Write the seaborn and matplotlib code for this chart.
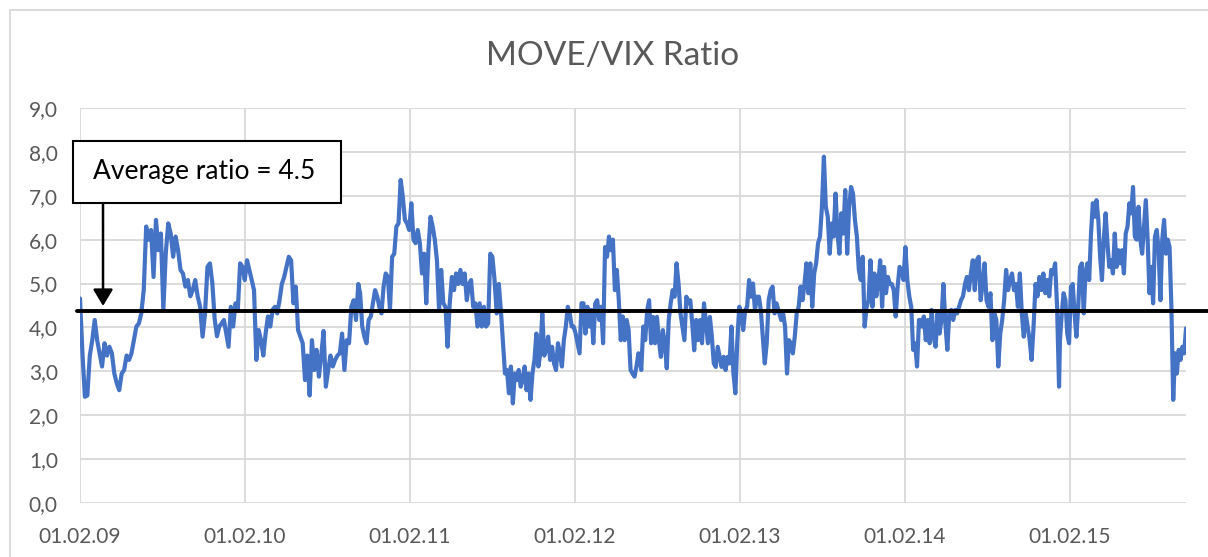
import matplotlib
matplotlib.use("Agg")
import matplotlib.pyplot as plt
import matplotlib.dates as mdates
from matplotlib.patches import Rectangle
from matplotlib.ticker import FuncFormatter
import seaborn as sns
import pandas as pd

# MOVE/VIX ratio in consecutive date segments
seg_start = ["2009-02-01", "2009-11-26", "2010-10-14", "2011-08-22",
             "2012-06-23", "2013-05-03", "2014-03-06", "2015-01-10"]
seg_end = ["2009-11-21", "2010-10-10", "2011-08-17", "2012-06-21",
           "2013-04-27", "2014-03-04", "2015-01-08", "2015-10-16"]

ratio_1 = [4.66, 3.41, 2.42, 2.45, 3.36, 3.71, 4.17, 3.71, 3.41, 3.11, 3.64, 3.36, 3.56, 3.41,
           2.95, 2.73, 2.57, 2.95, 3.03, 3.36, 3.26, 3.41, 3.71, 4.02, 4.09, 4.32, 4.85, 6.30,
           6.00, 6.22, 5.15, 6.45, 5.76, 6.14, 4.40, 5.70, 6.37, 6.14, 5.61, 6.07, 5.76, 5.31,
           5.23, 4.93, 5.08, 4.71, 4.85, 5.08, 4.71, 4.47, 3.79, 4.32, 5.38, 5.46, 5.00]
ratio_2 = [4.20, 3.80, 4.02, 4.09, 4.17, 3.86, 3.56, 4.47, 4.02, 4.55, 4.40, 5.46, 5.38, 5.08,
           5.53, 5.31, 5.08, 4.85, 3.26, 3.94, 3.71, 3.36, 3.86, 4.25, 4.02, 4.40, 4.47, 4.32,
           4.62, 4.99, 5.15, 5.38, 5.61, 5.53, 4.55, 4.93, 3.94, 3.79, 3.64, 2.80, 3.36, 2.45,
           3.71, 3.03, 3.49, 2.88, 3.36, 3.92, 2.65, 3.03, 3.36, 3.11, 3.26, 3.36, 3.41, 3.86,
           3.03, 3.71, 3.64, 4.47, 4.62, 4.17, 4.99]
ratio_3 = [4.78, 4.02, 3.79, 3.64, 4.17, 4.25, 4.55, 4.85, 4.71, 4.47, 4.32, 4.93, 5.23, 5.15,
           4.40, 5.61, 5.68, 6.30, 6.37, 7.36, 6.98, 6.45, 6.37, 6.22, 6.83, 6.00, 5.92, 6.22,
           5.92, 5.23, 5.68, 4.55, 5.76, 6.52, 6.30, 6.00, 5.53, 4.40, 5.31, 4.55, 4.47, 3.56,
           4.55, 5.15, 4.85, 5.23, 4.99, 5.31, 4.99, 5.23, 4.62, 4.99, 5.08, 4.47, 4.55, 4.02,
           4.55, 4.02, 4.47, 4.02, 4.09, 5.68, 5.61, 5.08, 4.32, 4.99]
ratio_4 = [4.32, 3.64, 2.95, 3.03, 2.50, 3.11, 2.27, 2.95, 2.80, 3.03, 2.65, 2.80, 3.11, 2.57,
           2.95, 2.35, 2.95, 3.26, 3.86, 3.11, 3.41, 4.32, 3.36, 3.49, 3.79, 3.26, 3.56, 3.18,
           3.03, 3.64, 3.41, 3.11, 3.71, 4.02, 4.47, 4.32, 4.02, 4.02, 3.86, 3.64, 3.41, 4.55,
           4.55, 3.86, 4.47, 4.02, 4.40, 3.64, 4.55, 4.62, 4.17, 4.47, 3.64, 5.83, 5.61, 6.07,
           5.76, 6.00, 4.85, 5.31, 4.62, 3.71, 4.25, 3.71, 4.17, 3.94, 3.03, 2.95, 2.88, 3.11,
           3.41]
ratio_5 = [3.33, 3.03, 4.02, 3.71, 4.39, 4.62, 3.64, 4.24, 3.64, 4.24, 3.71, 3.33, 3.94, 3.64,
           3.07, 4.17, 4.55, 4.85, 4.70, 5.46, 5.00, 4.32, 4.02, 3.71, 4.70, 4.55, 4.62, 4.09,
           3.48, 4.17, 3.71, 4.17, 3.64, 4.55, 4.09, 3.64, 4.24, 3.79, 3.18, 3.10, 3.56, 3.33,
           3.10, 3.33, 3.03, 3.33, 3.18, 4.02, 2.96, 2.50, 3.71, 4.47, 4.32, 3.94, 4.39, 4.47,
           5.08, 4.70, 5.00, 4.39, 4.70, 4.70, 4.39, 3.79, 3.18, 3.64, 4.62, 4.85, 4.93, 4.32,
           4.55, 4.39]
ratio_6 = [4.17, 4.32, 4.02, 2.95, 3.71, 3.64, 3.41, 3.79, 4.32, 4.47, 4.93, 4.62, 4.99, 5.46,
           4.78, 5.46, 4.47, 5.23, 5.46, 5.92, 6.07, 6.75, 7.89, 6.75, 6.52, 5.68, 6.37, 6.07,
           7.05, 6.14, 5.68, 6.60, 6.14, 7.13, 5.68, 6.75, 7.20, 7.05, 6.45, 6.07, 5.31, 5.08,
           5.61, 4.02, 4.47, 4.62, 5.53, 4.47, 5.23, 4.71, 4.99, 5.53, 4.47, 5.38, 4.78, 5.15,
           4.99, 4.99, 4.85, 4.25, 4.93, 5.38, 5.31, 5.08, 5.83, 5.08, 4.71, 4.47, 3.49, 3.64,
           3.11, 4.17]
ratio_7 = [4.17, 4.02, 4.25, 3.71, 4.17, 3.64, 4.40, 3.79, 3.56, 4.32, 3.86, 4.17, 4.99, 4.09,
           3.49, 4.32, 4.40, 4.17, 4.40, 4.32, 4.47, 4.62, 4.71, 4.99, 5.15, 4.85, 5.23, 5.53,
           4.85, 5.53, 5.61, 4.62, 4.99, 5.46, 4.62, 4.47, 4.78, 3.71, 4.32, 4.17, 3.11, 3.86,
           4.17, 4.62, 5.31, 4.85, 5.08, 5.23, 4.85, 4.99, 4.47, 5.23, 4.32, 3.79, 4.32, 4.02,
           3.71, 3.26, 4.02, 4.99, 4.71, 5.15, 4.85, 5.23, 4.78, 5.08, 4.71, 5.31, 5.23, 5.46,
           4.47, 2.65]
ratio_8 = [3.71, 4.32, 4.78, 4.62, 3.86, 3.64, 4.93, 4.99, 4.32, 3.79, 4.47, 5.38, 5.46, 4.32,
           5.23, 5.46, 5.08, 6.14, 6.83, 6.52, 6.90, 6.45, 5.61, 5.08, 6.00, 6.60, 5.92, 5.38,
           5.53, 5.23, 6.14, 5.38, 5.76, 5.46, 5.76, 5.23, 6.14, 6.30, 6.83, 6.60, 7.20, 6.07,
           6.00, 6.75, 6.00, 5.68, 6.30, 6.90, 6.00, 4.78, 5.38, 4.55, 6.07, 6.22, 5.76, 4.62,
           6.00, 6.45, 5.68, 6.00, 5.83, 4.47, 2.35, 3.41, 2.95, 3.49, 3.26, 3.56, 3.41, 3.98]

segments = [ratio_1, ratio_2, ratio_3, ratio_4, ratio_5, ratio_6, ratio_7, ratio_8]

avg_level = 4.38
avg_label = "Average ratio = 4.5"
arrow_date = "2009-03-24"
x_start = "2009-02-01"
x_end = "2015-10-16"

frames = []
for start, end, vals in zip(seg_start, seg_end, segments):
    frames.append(pd.DataFrame({"date": pd.date_range(start, end, periods=len(vals)),
                                "ratio": vals}))
df = pd.concat(frames, ignore_index=True)

sns.set_theme(style="white")
plt.rcParams["font.family"] = ["Lato", "DejaVu Sans"]

W, H = 1208, 557
fig = plt.figure(figsize=(W / 100, H / 100), dpi=100)
ax = fig.add_axes([80 / W, 1 - 503 / H, (1186 - 80) / W, 395 / H])

sns.lineplot(data=df, x="date", y="ratio", color="#4472C4", lw=3.0, ax=ax, zorder=3)

ax.set_xlim(pd.Timestamp(x_start), pd.Timestamp(x_end))
ax.set_ylim(0, 9)
ax.set_yticks(range(0, 10))
ax.yaxis.set_major_formatter(FuncFormatter(lambda v, p: f"{v:.1f}".replace(".", ",")))
ax.xaxis.set_major_locator(mdates.YearLocator(month=2, day=1))
ax.xaxis.set_major_formatter(mdates.DateFormatter("%d.%m.%y"))
ax.set_xlabel("")
ax.set_ylabel("")
ax.grid(True, color="#d9d9d9", lw=1.3)
ax.tick_params(axis="both", length=0, labelsize=15, colors="#595959")
ax.tick_params(axis="x", pad=17)
ax.tick_params(axis="y", pad=16)
for s in ax.spines.values():
    s.set_visible(False)

# average line drawn past the plot area like in the original
ax.axhline(avg_level, xmin=-0.003, xmax=1.03, color="black", lw=2.8, clip_on=False, zorder=5)

# outer chart border
fig.add_artist(Rectangle((10 / W, -0.1), 1.2, 1.1 - 10 / H, transform=fig.transFigure,
                         fill=False, edgecolor="#d9d9d9", lw=1.3))

fig.text(0.507, 1 - 56 / H, "MOVE/VIX Ratio", fontsize=24, color="#595959",
         ha="center", va="center")

# annotation box + arrow
fig.add_artist(Rectangle((73 / W, 1 - 203 / H), (341 - 73) / W, 62 / H,
                         transform=fig.transFigure, facecolor="white",
                         edgecolor="black", lw=1.5, zorder=6))
fig.text(93 / W, 1 - 171 / H, avg_label, fontsize=19, color="black",
         ha="left", va="center", zorder=7)
ax.annotate("", xy=(mdates.date2num(pd.Timestamp(arrow_date)), 4.49),
            xytext=(103 / W, 1 - 203 / H), textcoords="figure fraction",
            arrowprops=dict(arrowstyle="-|>,head_length=0.5,head_width=0.3",
                            mutation_scale=20, color="black", lw=1.8,
                            shrinkA=0, shrinkB=0),
            annotation_clip=False, zorder=7)

fig.savefig("out.png", dpi=100)
